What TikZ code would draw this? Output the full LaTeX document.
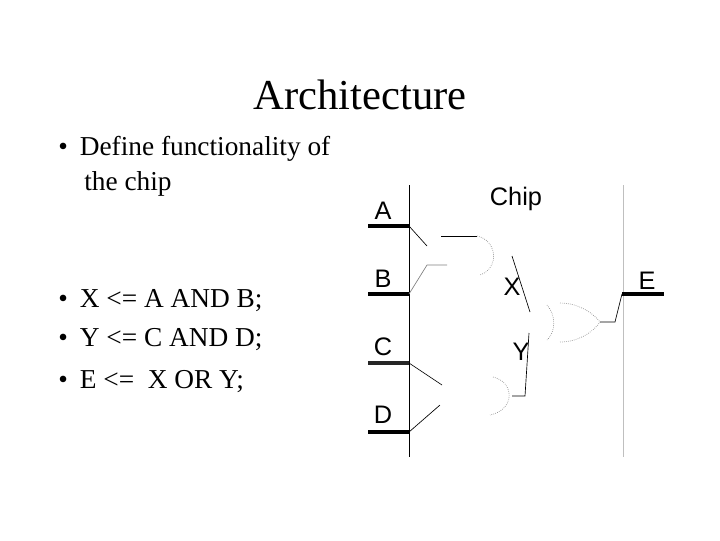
\documentclass[tikz,border=0pt]{standalone}
\usepackage{fontspec}
\setmainfont{Liberation Serif}
\newfontfamily\circfont{Liberation Sans}
\begin{document}
\begin{tikzpicture}[x=0.75pt,y=-0.75pt,
  bul/.style={anchor=west,font=\fontsize{20.5}{22}\selectfont,inner sep=0pt},
  lab/.style={font=\circfont\fontsize{19}{20}\selectfont,inner sep=0pt},
  pin/.style={line width=3pt},
  wire/.style={line width=0.5pt},
  gate/.style={line width=0.5pt,densely dotted,gray}]
\useasboundingbox (0,0) rectangle (720,540);
\node[font=\fontsize{32}{34}\selectfont] (title) at (360,95) {Architecture};
\node[bul] (b1) at (58,149) {\textbullet\hspace{9pt}Define functionality of};
\node[bul] (b1b) at (84,184) {the chip};
\node[bul] (b2) at (58,301) {\textbullet\hspace{9pt}X <= A AND B;};
\node[bul] (b3) at (58,340) {\textbullet\hspace{9pt}Y <= C AND D;};
\node[bul] (b4) at (58,382) {\textbullet\hspace{9pt}E <= \ X OR Y;};
% chip borders
\draw[wire] (409,185) -- (409,457);
\draw[wire,gray!50] (623,185) -- (623,457);
\node[lab] (chip) at (516,199) {Chip};
% pins
\coordinate (pa) at (409,226); \coordinate (pb) at (409,294);
\coordinate (pc) at (409,363); \coordinate (pd) at (409,432);
\coordinate (pe) at (622,294);
\draw[pin] (368,226) -- (pa);
\draw[pin] (368,294) -- (pb);
\draw[pin,black!85] (368,363) -- (pc);
\draw[pin] (368,432) -- (pd);
\draw[pin] (pe) -- (664,294);
\node[lab] (la) at (383,211) {A};
\node[lab] (lb) at (383,279) {B};
\node[lab] (lc) at (383,347) {C};
\node[lab] (ld) at (383,415) {D};
\node[lab] (le) at (647,281) {E};
\node[lab] (lx) at (512,287) {X};
\node[lab] (ly) at (521,352) {Y};
% upper AND
\draw[wire] (pa) -- (427,246);
\draw[wire] (441,236) -- (477,236);
\draw[wire,gray] (pb) -- (427,265) -- (447,265);
\draw[gate] (477,236) .. controls (497,240) and (500,268) .. (480,275);
% X wire
\draw[wire] (512,256) -- (530,312);
% OR gate
\draw[gate] (547,305) .. controls (556,315) and (556,332) .. (547,340);
\draw[gate] (560,303) .. controls (580,303) and (595,315) .. (600,322);
\draw[gate] (560,342) .. controls (580,342) and (595,330) .. (600,322);
\draw[wire] (600,322) -- (615,322) -- (pe);
% Y wire
\draw[wire] (529,333) -- (525,396) -- (512,396);
% lower AND
\draw[wire] (pc) -- (442,385);
\draw[wire] (pd) -- (440,405);
\draw[gate] (493,377) .. controls (515,382) and (515,410) .. (490,415);
\end{tikzpicture}
\end{document}
